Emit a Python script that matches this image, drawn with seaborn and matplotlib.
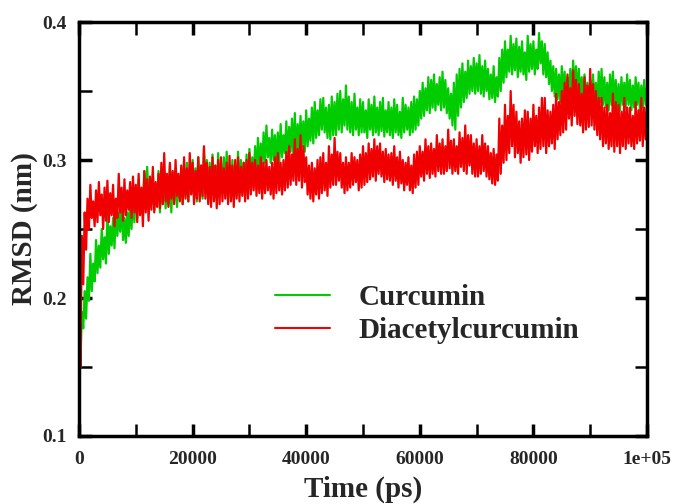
import numpy as np
import pandas as pd
import seaborn as sns
import matplotlib.pyplot as plt
from matplotlib.lines import Line2D

sns.set_style('ticks')
plt.rcParams['font.family'] = ['Liberation Serif', 'DejaVu Serif']
plt.rcParams['font.weight'] = 'bold'

# time axis in ps: a high value every 500 ps, a low one 250 ps later
time_ps = np.arange(0, 201) * 500

# Curcumin (green): tops and bottoms of the noisy trace
cur_hi = [0.165, 0.19, 0.205, 0.215, 0.232, 0.225, 0.242, 0.238, 0.25, 0.244,
          0.262, 0.252, 0.258, 0.268, 0.262, 0.272, 0.258, 0.262, 0.27, 0.275,
          0.28, 0.286, 0.278, 0.292, 0.295, 0.284, 0.29, 0.282, 0.292, 0.286,
          0.29, 0.282, 0.296, 0.288, 0.292, 0.285, 0.294, 0.29, 0.298, 0.292,
          0.30, 0.294, 0.302, 0.296, 0.308, 0.30, 0.298, 0.304, 0.296, 0.305,
          0.298, 0.302, 0.306, 0.296, 0.30, 0.294, 0.306, 0.30, 0.298, 0.304,
          0.308, 0.302, 0.31, 0.316, 0.312, 0.32, 0.325, 0.316, 0.322, 0.318,
          0.32, 0.326, 0.318, 0.328, 0.324, 0.33, 0.334, 0.326, 0.332, 0.328,
          0.336, 0.33, 0.338, 0.342, 0.336, 0.344, 0.345, 0.338, 0.34, 0.346,
          0.342, 0.348, 0.35, 0.344, 0.354, 0.346, 0.342, 0.348, 0.338, 0.344,
          0.342, 0.336, 0.344, 0.34, 0.346, 0.338, 0.342, 0.345, 0.336, 0.342,
          0.338, 0.344, 0.34, 0.335, 0.345, 0.34, 0.338, 0.342, 0.346, 0.344,
          0.35, 0.356, 0.352, 0.36, 0.358, 0.362, 0.355, 0.36, 0.364, 0.358,
          0.352, 0.348, 0.356, 0.362, 0.366, 0.37, 0.364, 0.372, 0.368, 0.374,
          0.37, 0.376, 0.368, 0.372, 0.366, 0.362, 0.368, 0.36, 0.374, 0.38,
          0.386, 0.38, 0.39, 0.384, 0.388, 0.382, 0.386, 0.378, 0.39, 0.384,
          0.386, 0.38, 0.392, 0.386, 0.384, 0.378, 0.372, 0.368, 0.366, 0.362,
          0.368, 0.364, 0.36, 0.366, 0.372, 0.368, 0.366, 0.36, 0.362, 0.356,
          0.358, 0.362, 0.356, 0.364, 0.366, 0.36, 0.356, 0.362, 0.364, 0.358,
          0.355, 0.36, 0.356, 0.362, 0.358, 0.354, 0.36, 0.356, 0.354, 0.358,
          0.352]
cur_lo = [0.15, 0.178, 0.185, 0.198, 0.205, 0.212, 0.218, 0.222, 0.228, 0.225,
          0.232, 0.238, 0.236, 0.245, 0.248, 0.242, 0.24, 0.245, 0.25, 0.255,
          0.258, 0.262, 0.268, 0.265, 0.272, 0.268, 0.264, 0.27, 0.262, 0.268,
          0.265, 0.268, 0.262, 0.27, 0.266, 0.272, 0.268, 0.274, 0.27, 0.276,
          0.275, 0.27, 0.278, 0.272, 0.276, 0.27, 0.274, 0.278, 0.272, 0.276,
          0.278, 0.274, 0.276, 0.272, 0.278, 0.274, 0.276, 0.28, 0.274, 0.278,
          0.28, 0.284, 0.286, 0.29, 0.294, 0.298, 0.302, 0.298, 0.30, 0.296,
          0.298, 0.302, 0.305, 0.30, 0.306, 0.302, 0.30, 0.308, 0.31, 0.306,
          0.31, 0.314, 0.312, 0.316, 0.318, 0.322, 0.32, 0.316, 0.315, 0.318,
          0.318, 0.322, 0.32, 0.325, 0.322, 0.32, 0.318, 0.322, 0.318, 0.32,
          0.32, 0.316, 0.322, 0.318, 0.32, 0.318, 0.321, 0.317, 0.32, 0.318,
          0.316, 0.32, 0.318, 0.316, 0.32, 0.322, 0.318, 0.32, 0.322, 0.325,
          0.33, 0.332, 0.336, 0.334, 0.338, 0.336, 0.34, 0.336, 0.338, 0.334,
          0.33, 0.325, 0.322, 0.332, 0.338, 0.342, 0.345, 0.348, 0.35, 0.348,
          0.35, 0.348, 0.346, 0.35, 0.344, 0.345, 0.342, 0.346, 0.35, 0.356,
          0.36, 0.364, 0.362, 0.365, 0.36, 0.364, 0.362, 0.358, 0.364, 0.366,
          0.362, 0.366, 0.37, 0.362, 0.36, 0.355, 0.35, 0.346, 0.344, 0.342,
          0.345, 0.342, 0.34, 0.344, 0.348, 0.346, 0.344, 0.342, 0.34, 0.338,
          0.338, 0.34, 0.336, 0.342, 0.34, 0.338, 0.336, 0.34, 0.338, 0.336,
          0.336, 0.34, 0.338, 0.34, 0.336, 0.338, 0.34, 0.336, 0.338, 0.34,
          0.34]

# Diacetylcurcumin (red)
dia_hi = [0.20, 0.245, 0.262, 0.272, 0.282, 0.27, 0.278, 0.284, 0.275, 0.28,
          0.285, 0.276, 0.282, 0.272, 0.29, 0.28, 0.286, 0.278, 0.284, 0.288,
          0.282, 0.29, 0.28, 0.292, 0.286, 0.288, 0.295, 0.284, 0.29, 0.298,
          0.305, 0.29, 0.298, 0.292, 0.30, 0.29, 0.296, 0.302, 0.294, 0.305,
          0.298, 0.292, 0.302, 0.296, 0.31, 0.298, 0.295, 0.302, 0.296, 0.30,
          0.302, 0.294, 0.298, 0.303, 0.296, 0.30, 0.302, 0.295, 0.298, 0.30,
          0.305, 0.298, 0.30, 0.296, 0.302, 0.298, 0.30, 0.295, 0.298, 0.302,
          0.305, 0.298, 0.30, 0.306, 0.31, 0.304, 0.315, 0.308, 0.318, 0.31,
          0.302, 0.296, 0.298, 0.294, 0.30, 0.302, 0.305, 0.298, 0.31, 0.304,
          0.316, 0.306, 0.305, 0.298, 0.302, 0.298, 0.305, 0.302, 0.30, 0.304,
          0.31, 0.305, 0.312, 0.308, 0.315, 0.31, 0.312, 0.306, 0.308, 0.304,
          0.305, 0.31, 0.302, 0.306, 0.30, 0.298, 0.302, 0.296, 0.304, 0.306,
          0.31, 0.306, 0.315, 0.31, 0.312, 0.308, 0.318, 0.312, 0.315, 0.31,
          0.322, 0.314, 0.315, 0.31, 0.32, 0.316, 0.325, 0.318, 0.318, 0.312,
          0.315, 0.31, 0.318, 0.312, 0.31, 0.305, 0.308, 0.304, 0.33, 0.325,
          0.34, 0.332, 0.35, 0.34, 0.335, 0.328, 0.33, 0.336, 0.335, 0.33,
          0.34, 0.332, 0.338, 0.345, 0.345, 0.336, 0.335, 0.34, 0.348, 0.342,
          0.35, 0.356, 0.362, 0.352, 0.365, 0.358, 0.355, 0.348, 0.36, 0.354,
          0.366, 0.355, 0.35, 0.345, 0.345, 0.338, 0.34, 0.334, 0.348, 0.342,
          0.34, 0.335, 0.345, 0.338, 0.338, 0.332, 0.342, 0.336, 0.345, 0.338,
          0.34]
dia_lo = [0.15, 0.21, 0.235, 0.25, 0.258, 0.252, 0.255, 0.26, 0.25, 0.256,
          0.255, 0.26, 0.252, 0.258, 0.262, 0.256, 0.26, 0.264, 0.258, 0.262,
          0.255, 0.26, 0.252, 0.262, 0.256, 0.264, 0.262, 0.266, 0.265, 0.268,
          0.27, 0.266, 0.272, 0.268, 0.274, 0.27, 0.268, 0.272, 0.27, 0.275,
          0.268, 0.272, 0.27, 0.274, 0.272, 0.268, 0.266, 0.27, 0.265, 0.268,
          0.27, 0.272, 0.268, 0.27, 0.266, 0.272, 0.27, 0.274, 0.27, 0.272,
          0.275, 0.278, 0.274, 0.276, 0.272, 0.276, 0.278, 0.275, 0.272, 0.276,
          0.278, 0.275, 0.278, 0.28, 0.282, 0.285, 0.282, 0.285, 0.28, 0.284,
          0.275, 0.272, 0.27, 0.275, 0.272, 0.276, 0.278, 0.274, 0.28, 0.282,
          0.282, 0.285, 0.28, 0.276, 0.278, 0.28, 0.282, 0.284, 0.278, 0.28,
          0.282, 0.284, 0.286, 0.288, 0.285, 0.29, 0.288, 0.284, 0.286, 0.285,
          0.282, 0.285, 0.28, 0.283, 0.278, 0.282, 0.278, 0.276, 0.28, 0.282,
          0.288, 0.285, 0.29, 0.287, 0.29, 0.288, 0.292, 0.29, 0.29, 0.292,
          0.294, 0.29, 0.292, 0.29, 0.295, 0.292, 0.29, 0.296, 0.29, 0.288,
          0.288, 0.29, 0.292, 0.288, 0.286, 0.283, 0.282, 0.285, 0.29, 0.298,
          0.30, 0.305, 0.31, 0.302, 0.305, 0.298, 0.302, 0.304, 0.30, 0.306,
          0.31, 0.305, 0.308, 0.31, 0.305, 0.31, 0.312, 0.308, 0.315, 0.318,
          0.32, 0.322, 0.33, 0.325, 0.332, 0.326, 0.325, 0.32, 0.322, 0.324,
          0.325, 0.322, 0.318, 0.315, 0.31, 0.312, 0.308, 0.31, 0.306, 0.31,
          0.305, 0.31, 0.308, 0.312, 0.31, 0.308, 0.312, 0.314, 0.31, 0.315,
          0.315]


def trace(hi, lo):
    # top at t, bottom a quarter step later
    t = np.column_stack([time_ps, time_ps + 250]).ravel()[:-1]
    v = np.column_stack([hi, lo]).ravel()[:-1]
    return pd.DataFrame({'t': t, 'v': v})


cur = trace(cur_hi, cur_lo)
dia = trace(dia_hi, dia_lo)

green = '#00cc00'
red = '#f00000'

fig = plt.figure(figsize=(6.73, 5.04), dpi=100)
ax = fig.add_axes([79 / 673, 1 - 436 / 504, 568 / 673, 414 / 504])

sns.lineplot(data=cur, x='t', y='v', color=green, lw=1.6, ax=ax,
             estimator=None, sort=False)
sns.lineplot(data=dia, x='t', y='v', color=red, lw=1.6, ax=ax,
             estimator=None, sort=False)

ax.set_xlim(0, 100000)
ax.set_ylim(0.1, 0.4)
ax.set_xticks(np.arange(0, 100001, 20000))
ax.set_xticklabels(['0', '20000', '40000', '60000', '80000', '1e+05'])
ax.set_xticks(np.arange(10000, 100000, 20000), minor=True)
ax.set_yticks([0.1, 0.2, 0.3, 0.4])
ax.set_yticklabels(['0.1', '0.2', '0.3', '0.4'])
ax.set_yticks([0.15, 0.25, 0.35], minor=True)

ax.tick_params(which='both', direction='in', top=True, right=True,
               length=9, color='black')
ax.tick_params(which='major', width=2.5, labelsize=14)
ax.tick_params(axis='x', which='major', pad=11)
ax.tick_params(axis='y', which='major', pad=9)
ax.tick_params(which='minor', width=1.8)
for lab in ax.get_xticklabels() + ax.get_yticklabels():
    lab.set_fontweight('bold')
for s in ax.spines.values():
    s.set_linewidth(2.5)
    s.set_color('black')

ax.set_xlabel('Time (ps)', fontsize=21, fontweight='bold', labelpad=5)
ax.set_ylabel('RMSD (nm)', fontsize=21, fontweight='bold', labelpad=3)

handles = [Line2D([], [], color=green, lw=1.5),
           Line2D([], [], color=red, lw=1.5)]
ax.legend(handles, ['Curcumin', 'Diacetylcurcumin'],
          loc='upper left', bbox_to_anchor=(275 / 673, 1 - 284 / 504),
          bbox_transform=fig.transFigure, frameon=False,
          prop={'size': 21, 'weight': 'bold'}, handlelength=1.9,
          handletextpad=0.95, labelspacing=0.22, borderpad=0,
          borderaxespad=0)

fig.savefig('out.png', dpi=100)
